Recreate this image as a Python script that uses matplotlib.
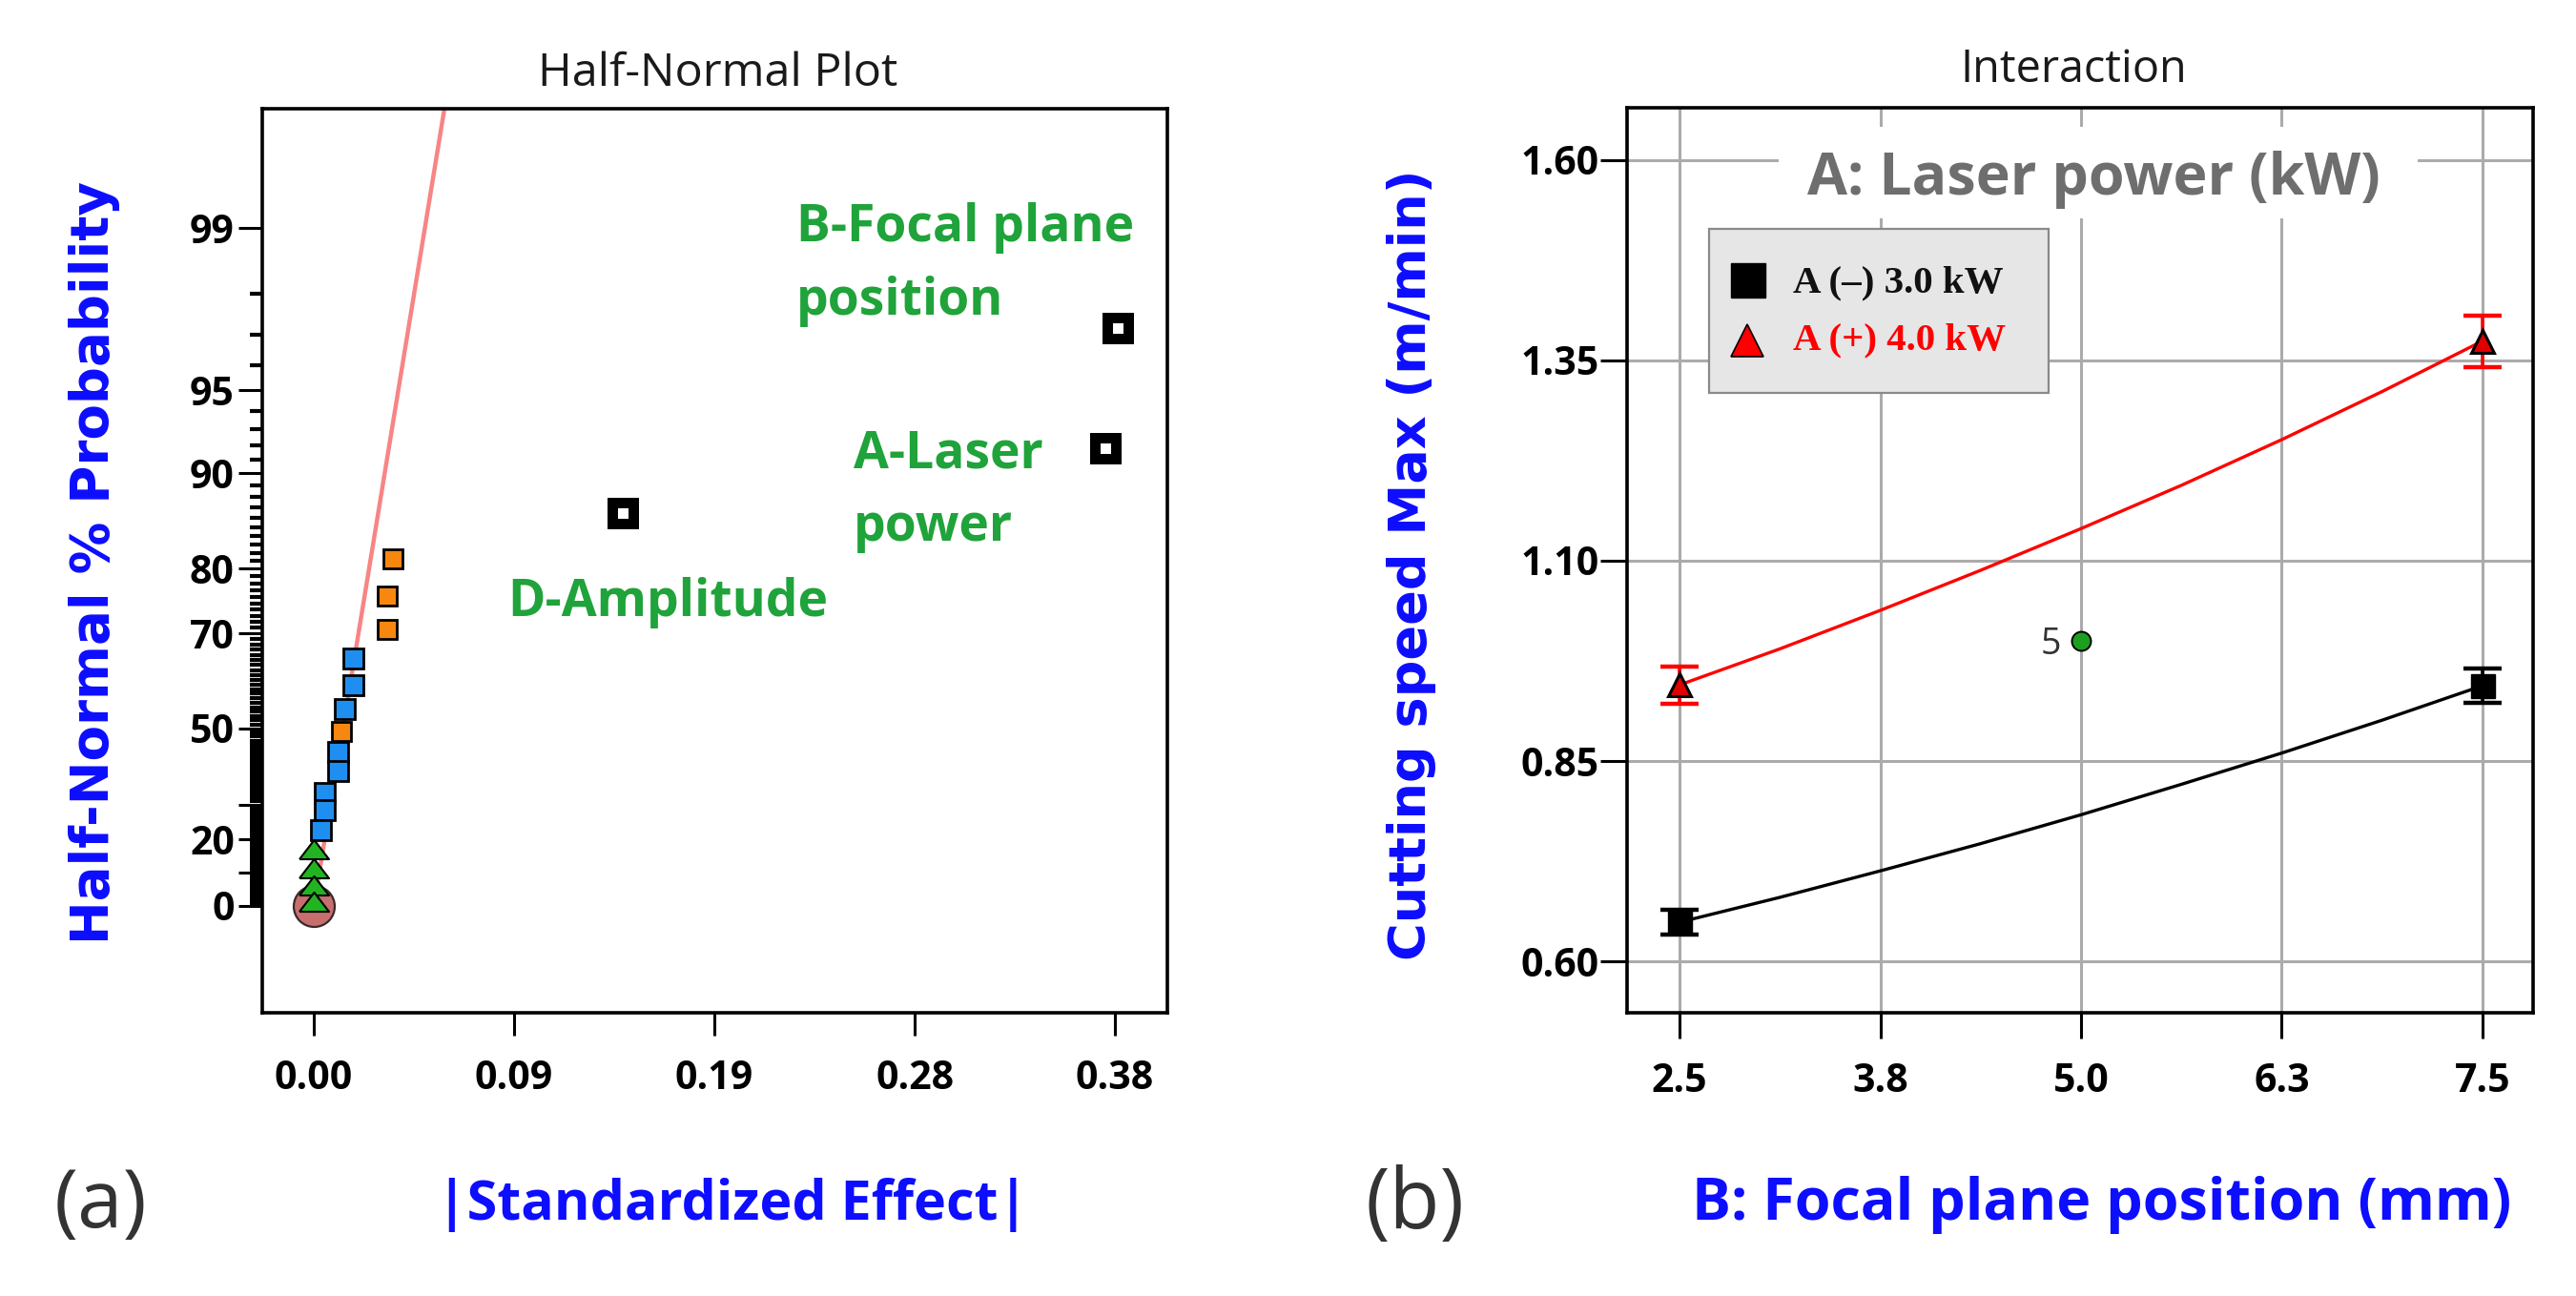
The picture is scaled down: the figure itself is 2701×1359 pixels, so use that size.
import math
import numpy as np
import matplotlib
matplotlib.use("Agg")
import matplotlib.pyplot as plt
from matplotlib.patches import Rectangle

plt.rcParams['font.family'] = ['Open Sans', 'DejaVu Sans']

# ---------------- data : half-normal plot (a) ----------------
eff_blue = [0.0184, 0.0184, 0.0143, 0.0112, 0.0112, 0.0049, 0.0049, 0.0031]
prob_blue = [65.4, 60.0, 54.7, 44.4, 39.3, 33.4, 28.6, 22.8]
eff_orange = [0.0372, 0.0345, 0.0345, 0.0130]
prob_orange = [81.3, 76.1, 70.7, 49.3]
eff_green = [0.0, 0.0, 0.0, 0.0]
prob_green = [16.6, 11.0, 5.8, 0.9]
eff_error = [0.0]
prob_error = [0.0]
eff_big = [0.3774, 0.3715, 0.1450]
prob_big = [97.2, 91.8, 86.5]
line_eff = [0.0, 0.0625]
line_prob = [0.0, 99.8]

eff_ticks = [0.0, 0.094, 0.188, 0.282, 0.376]
eff_tick_labels = ['0.00', '0.09', '0.19', '0.28', '0.38']
prob_major = [0, 10, 20, 30, 50, 70, 80, 90, 95, 99]
prob_major_labels = ['0', '', '20', '', '50', '70', '80', '90', '95', '99']
prob_minor = [p for p in range(1, 99) if p not in prob_major]

# ---------------- data : interaction plot (b) ----------------
B_levels = [2.5, 7.5]
lo_mean = [0.649, 0.944]
lo_err = [0.016, 0.021]
hi_mean = [0.945, 1.374]
hi_err = [0.023, 0.032]
fit_x = [2.5, 3.125, 3.75, 4.375, 5.0, 5.625, 6.25, 6.875, 7.5]
fit_lo = [0.649, 0.680, 0.713, 0.747, 0.783, 0.821, 0.860, 0.901, 0.944]
fit_hi = [0.945, 0.990, 1.038, 1.088, 1.140, 1.194, 1.251, 1.311, 1.374]
center_x = [5.0]
center_y = [1.00]
center_label = '5'
B_ticks = [2.5, 3.75, 5.0, 6.25, 7.5]
B_tick_labels = ['2.5', '3.8', '5.0', '6.3', '7.5']
v_ticks = [0.60, 0.85, 1.10, 1.35, 1.60]
v_tick_labels = ['0.60', '0.85', '1.10', '1.35', '1.60']


def half_normal_q(p):
    """percent probability -> half-normal quantile"""
    t = p / 100.0
    lo, hi = 0.0, 10.0
    for _ in range(80):
        mid = 0.5 * (lo + hi)
        if math.erf(mid / math.sqrt(2)) < t:
            lo = mid
        else:
            hi = mid
    return 0.5 * (lo + hi)


def hz(arr):
    return np.array([half_normal_q(v) for v in arr])


W, H = 2701, 1359
fig = plt.figure(figsize=(W / 100, H / 100), dpi=100)
renderer = fig.canvas.get_renderer()
PT = 0.72  # points per pixel


def fpos(x, y):
    return x / W, 1 - y / H


def fit(t, target, rotated=False):
    bb = t.get_window_extent(renderer=renderer)
    w = bb.height if rotated else bb.width
    t.set_fontsize(t.get_fontsize() * target / w)


BLUE = '#0d0dff'
GREEN = '#1fa33a'

# ================= panel (a) =================
axL = fig.add_axes([275 / W, 1 - 1062 / H, 949 / W, 948 / H])
axL.set_xlim(-0.0242, 0.4006)
axL.set_ylim(-0.406, 3.03)
for s in axL.spines.values():
    s.set_linewidth(2.6)
    s.set_color('black')

axL.plot(line_eff, hz(line_prob), color='#f78585', lw=3.2, zorder=2,
         solid_capstyle='butt')
axL.plot(eff_error, hz(prob_error), 'o', ms=43 * PT, mfc='#c76e6e',
         mec='#3a2a2a', mew=1.6, zorder=3)
tri = [(-1, -0.55), (1, -0.55), (0, 0.75), (-1, -0.55)]
axL.plot(eff_green, hz(prob_green), linestyle='none', marker=tri, ms=31 * PT,
         mfc='#22b322', mec='black', mew=1.5, zorder=4)
axL.plot(eff_blue, hz(prob_blue), 's', ms=21 * PT, mfc='#1f8ef1',
         mec='black', mew=2.0, zorder=4)
axL.plot(eff_orange, hz(prob_orange), 's', ms=20 * PT, mfc='#f7870f',
         mec='black', mew=2.0, zorder=4)
axL.plot(eff_big, hz(prob_big), 's', ms=22 * PT, mfc='white',
         mec='black', mew=11 * PT, zorder=4)

axL.set_xticks(eff_ticks)
axL.set_xticklabels(eff_tick_labels, fontweight='bold')
axL.set_yticks(hz(prob_major))
axL.set_yticklabels(prob_major_labels, fontweight='bold')
axL.set_yticks(hz(prob_minor), minor=True)
axL.tick_params(axis='x', length=24 * PT, width=2.2, pad=18, labelsize=29.5,
                direction='out')
axL.tick_params(axis='y', which='major', length=25 * PT, width=2.2, pad=3,
                labelsize=29.5, direction='out')
axL.tick_params(axis='y', which='minor', length=13 * PT, width=3.0,
                direction='out')

# green annotations
for txt, x, y in [('B-Focal plane', 835, 253), ('position', 835, 330),
                  ('A-Laser', 895, 491), ('power', 895, 567),
                  ('D-Amplitude', 532, 646)]:
    fig.text(*fpos(x, y), txt, color=GREEN, fontweight='bold', fontsize=38.5,
             ha='left', va='baseline')

t = fig.text(*fpos(753, 77), 'Half-Normal Plot', ha='center', va='center',
             fontsize=34, color='#1a1a1a')
fit(t, 377)
t = fig.text(*fpos(99, 590), 'Half-Normal % Probability', rotation=90,
             ha='center', va='center', color=BLUE, fontweight='bold',
             fontsize=38, family=['DejaVu Sans'])
fit(t, 798, rotated=True)
t = fig.text(*fpos(768, 1264), '|Standardized Effect|', ha='center',
             va='center', color=BLUE, fontweight='bold', fontsize=40)
fit(t, 619)
t = fig.text(*fpos(106, 1265), '(a)', ha='center', va='center',
             color='#333333', fontsize=58, fontweight='medium')
fit(t, 98)

# ================= panel (b) =================
axR = fig.add_axes([1706 / W, 1 - 1062 / H, 950 / W, 949 / H])
axR.set_xlim(2.173, 7.815)
axR.set_ylim(0.536, 1.665)
for s in axR.spines.values():
    s.set_linewidth(2.6)
    s.set_color('black')
axR.set_axisbelow(True)
axR.grid(True, color='#ababab', lw=2.2)

axR.set_xticks(B_ticks)
axR.set_xticklabels(B_tick_labels, fontweight='bold')
axR.set_yticks(v_ticks)
axR.set_yticklabels(v_tick_labels, fontweight='bold')
axR.tick_params(axis='x', length=27 * PT, width=2.2, pad=18, labelsize=29.5)
axR.tick_params(axis='y', length=28 * PT, width=2.2, pad=1, labelsize=29.5)

axR.add_patch(Rectangle((0.167, 0.8778), 0.706, 0.101,
                        transform=axR.transAxes, fc='white', ec='none',
                        zorder=1))
t = axR.text(0.515, 0.904, 'A: Laser power (kW)', transform=axR.transAxes,
             ha='center', va='baseline', color='#6e6e6e', fontweight='bold',
             fontsize=44, zorder=3)
fit(t, 601)

axR.plot(fit_x, fit_lo, color='black', lw=2.4, zorder=2)
axR.plot(fit_x, fit_hi, color='#ff0000', lw=2.4, zorder=2)
axR.errorbar(B_levels, lo_mean, yerr=lo_err, fmt='none', ecolor='black',
             elinewidth=2.6, capsize=14.5, capthick=3.2, zorder=3)
axR.errorbar(B_levels, hi_mean, yerr=hi_err, fmt='none', ecolor='#ff0000',
             elinewidth=2.6, capsize=14.5, capthick=3.2, zorder=3)
axR.plot(B_levels, lo_mean, 's', ms=25 * PT, color='black', zorder=4)
axR.plot(B_levels, hi_mean, '^', ms=24 * PT, mfc='#e00000', mec='black',
         mew=2.2, zorder=4)
axR.plot(center_x, center_y, 'o', ms=20 * PT, mfc='#1e9e1e', mec='black',
         mew=1.4, zorder=4)
axR.annotate(center_label, xy=(center_x[0], center_y[0]),
             xytext=(-23, -3), textcoords='offset points', ha='center',
             va='center', fontsize=27, color='#333333')

# legend box
axR.add_patch(Rectangle((0.0905, 0.6849), 0.3748, 0.1813,
                        transform=axR.transAxes, fc='#e6e6e6', ec='#8a8a8a',
                        lw=1.6, zorder=5))
axR.plot([0.1337], [0.8093], 's', ms=26, color='black',
         transform=axR.transAxes, zorder=6, clip_on=False)
axR.plot([0.1326], [0.7429], '^', ms=24, mfc='#ff0000', mec='black', mew=1.2,
         transform=axR.transAxes, zorder=6, clip_on=False)
axR.text(0.1832, 0.806, 'A (–) 3.0 kW', transform=axR.transAxes, ha='left',
         va='center', fontsize=29.5, fontweight='bold', color='#111111',
         family=['Liberation Serif', 'DejaVu Serif'], zorder=6)
axR.text(0.1832, 0.7429, 'A (+) 4.0 kW', transform=axR.transAxes, ha='left',
         va='center', fontsize=29.5, fontweight='bold', color='#ff0000',
         family=['Liberation Serif', 'DejaVu Serif'], zorder=6)

t = fig.text(*fpos(2174, 73), 'Interaction', ha='center', va='center',
             fontsize=34, color='#1a1a1a')
fit(t, 238)
t = fig.text(*fpos(1480, 592), 'Cutting speed Max (m/min)', rotation=90,
             ha='center', va='center', color=BLUE, fontweight='bold',
             fontsize=38, family=['DejaVu Sans'])
fit(t, 829, rotated=True)
t = fig.text(*fpos(2204, 1264), 'B: Focal plane position (mm)', ha='center',
             va='center', color=BLUE, fontweight='bold', fontsize=44)
fit(t, 861)
t = fig.text(*fpos(1484, 1265), '(b)', ha='center', va='center',
             color='#333333', fontsize=58, fontweight='medium')
fit(t, 104)

fig.savefig('out.png', dpi=100)
